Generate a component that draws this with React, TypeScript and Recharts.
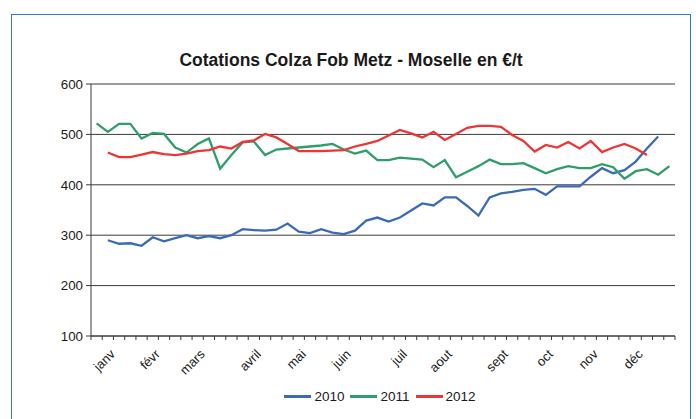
import { LineChart, Line, XAxis, YAxis, CartesianGrid, Legend } from "recharts";

const FONT = "'Liberation Sans', Arial, sans-serif";
const INK = "#1a1a1a";
const AXIS = "#3a3a3a";
const FRAME = "#2a7ad2";
const BLUE = "#3a6ab8";
const GREEN = "#2f9e6b";
const RED = "#ee3535";

// one category per week; only the first week of each month carries a label
const weekLabels = [
  "", "janv", "", "", "", "févr", "", "", "", "mars", "", "", "", "",
  "avril", "", "", "", "mai", "", "", "", "juin", "", "", "", "",
  "juil", "", "", "", "aout", "", "", "", "", "sept", "", "", "",
  "oct", "", "", "", "nov", "", "", "", "déc", "", "", "",
];

const y2010 = [
  null, 290, 283, 284, 279, 296, 288, 294, 300, 294, 298, 294, 300,
  312, 310, 309, 311, 323, 307, 304, 312, 305, 302, 309, 329, 335,
  327, 335, 349, 363, 359, 375, 375, 358, 339, 375, 383, 386, 390,
  392, 380, 397, 397, 397, 416, 433, 423, 429, 446, 472, 496, null,
];

const y2011 = [
  522, 505, 521, 521, 492, 503, 501, 474, 464, 481, 492, 432, 459,
  484, 486, 459, 470, 472, 474, 476, 478, 481, 470, 462, 468, 449,
  449, 454, 452, 450, 435, 449, 415, 426, 437, 450, 441, 441, 443,
  433, 423, 431, 437, 433, 433, 441, 435, 412, 427, 431, 420, 437,
];

const y2012 = [
  null, 464, 455, 455, 460, 465, 461, 459, 462, 467, 469, 476, 472,
  485, 488, 501, 494, 481, 467, 467, 467, 468, 469, 476, 481, 487,
  498, 509, 502, 494, 505, 489, 501, 513, 517, 517, 515, 499, 487,
  466, 479, 474, 485, 472, 487, 465, 474, 481, 472, 459, null, null,
];

const yTicks = [100, 200, 300, 400, 500, 600];

const data = weekLabels.map((label, i) => ({
  week: i,
  label,
  v2010: y2010[i],
  v2011: y2011[i],
  v2012: y2012[i],
}));

// tick marks sit between weeks, labels sit on the week itself
const boundaryTicks = [...weekLabels.map((_, i) => i - 0.5), weekLabels.length - 0.5];
const labelTicks = data.filter((d) => d.label).map((d) => d.week);

function WeekTick({ x, y, payload }: any) {
  const v = payload.value as number;
  if (v % 1 !== 0) {
    return <line x1={x} y1={y} x2={x} y2={y + 4} stroke={AXIS} strokeWidth={1} />;
  }
  const ax = x + 8;
  const ay = y + 19;
  return (
    <text
      x={ax}
      y={ay}
      transform={`rotate(-45, ${ax}, ${ay})`}
      textAnchor="end"
      fontFamily={FONT}
      fontSize={13}
      fill={INK}
    >
      {weekLabels[v]}
    </text>
  );
}

function LegendRow({ payload }: any) {
  return (
    <div style={{ display: "flex", justifyContent: "center", alignItems: "center", fontFamily: FONT, fontSize: 13.5, color: INK }}>
      {(payload || []).map((p: any) => (
        <span key={p.value} style={{ display: "flex", alignItems: "center", marginRight: 6 }}>
          <span style={{ display: "inline-block", width: 27, height: 3, background: p.color, marginRight: 3 }} />
          {p.value}
        </span>
      ))}
    </div>
  );
}

export default function App() {
  return (
    <div style={{ position: "absolute", left: 0, top: 0, width: 696, height: 419, overflow: "hidden", background: "#fff" }}>
      <div
        style={{
          position: "absolute",
          left: 11,
          top: 14,
          width: 678,
          height: 410,
          border: `1.5px solid ${FRAME}`,
          borderBottom: "none",
        }}
      />
      <div
        style={{
          position: "absolute",
          left: 11,
          top: 50,
          width: 680,
          textAlign: "center",
          fontFamily: FONT,
          fontWeight: "bold",
          fontSize: 17.5,
          lineHeight: "20px",
          color: INK,
        }}
      >
        Cotations Colza Fob Metz - Moselle en €/t
      </div>
      <div style={{ position: "absolute", left: 0, top: 0 }}>
        <LineChart width={696} height={419} data={data} margin={{ top: 84, right: 21, left: 51, bottom: 23 }}>
          <CartesianGrid horizontal vertical={false} stroke={AXIS} strokeWidth={1} />
          <XAxis
            dataKey="week"
            type="number"
            domain={[-0.5, weekLabels.length - 0.5]}
            ticks={[...boundaryTicks, ...labelTicks]}
            interval={0}
            height={60}
            tickSize={0}
            tickMargin={0}
            tickLine={false}
            axisLine={{ stroke: AXIS, strokeWidth: 1 }}
            tick={<WeekTick />}
            allowDecimals
          />
          <YAxis
            width={40}
            domain={[100, 600]}
            ticks={yTicks}
            interval={0}
            tickSize={5}
            tickMargin={3}
            tickLine={{ stroke: AXIS }}
            axisLine={{ stroke: AXIS, strokeWidth: 1 }}
            tick={{ fill: INK, fontSize: 13.3, fontFamily: FONT }}
          />
          <Legend
            layout="horizontal"
            verticalAlign="middle"
            align="center"
            content={<LegendRow />}
            wrapperStyle={{ left: 91, width: 584, top: 389 }}
          />
          <Line name="2010" dataKey="v2010" stroke={BLUE} strokeWidth={2.3} dot={false} isAnimationActive={false} />
          <Line name="2011" dataKey="v2011" stroke={GREEN} strokeWidth={2.3} dot={false} isAnimationActive={false} />
          <Line name="2012" dataKey="v2012" stroke={RED} strokeWidth={2.3} dot={false} isAnimationActive={false} />
        </LineChart>
      </div>
    </div>
  );
}
